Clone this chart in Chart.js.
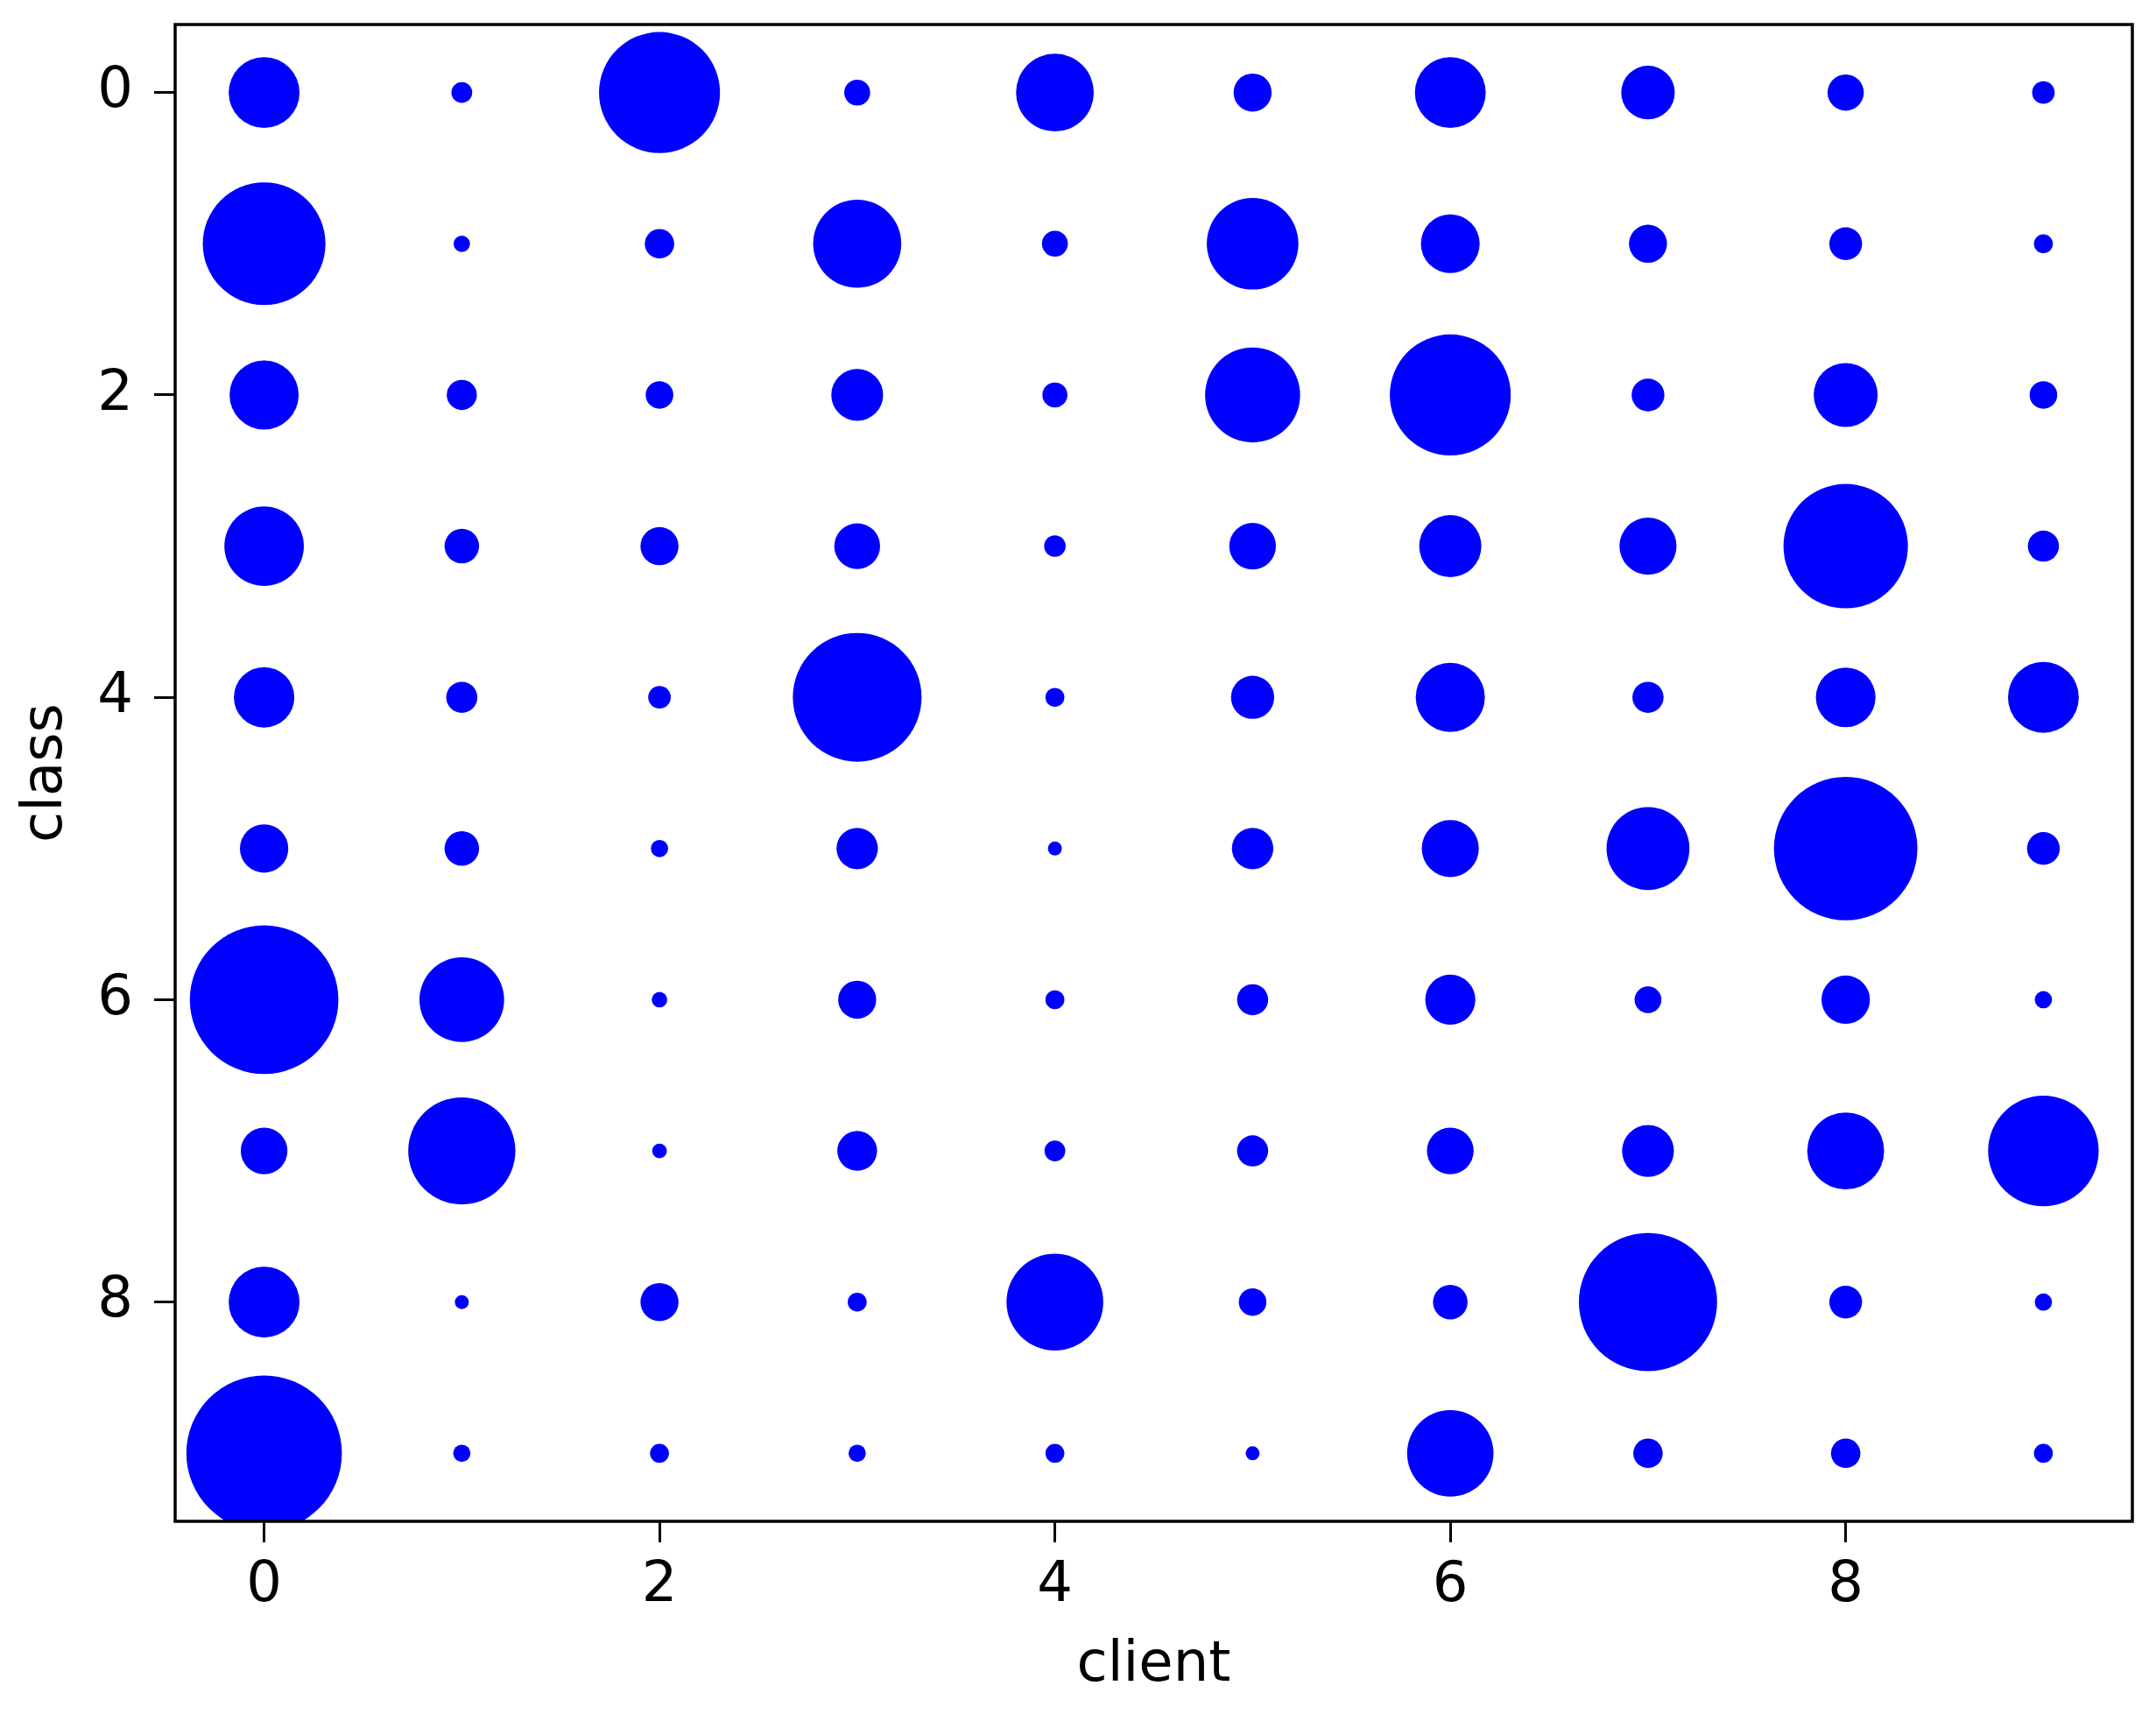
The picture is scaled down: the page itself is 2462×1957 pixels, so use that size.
<!DOCTYPE html>
<html>
<head>
<meta charset="utf-8">
<title>client / class distribution</title>
<script src="https://cdn.jsdelivr.net/npm/chart.js@4.4.1/dist/chart.umd.min.js"></script>
<style>
  html, body { margin: 0; padding: 0; background: #ffffff; }
  #wrap { width: 2462px; height: 1957px; }
</style>
</head>
<body>
<div id="wrap"><canvas id="bubbleChart" width="2462" height="1957"></canvas></div>
<script>
// clients along x, classes along y (0 at the top)
const clients = [0, 1, 2, 3, 4, 5, 6, 7, 8, 9];
const classes = [0, 1, 2, 3, 4, 5, 6, 7, 8, 9];

// samples of each class held by every client
const class0 = [672, 58, 1960, 90, 810, 194, 672, 384, 176, 68];
const class1 = [2016, 36, 116, 1040, 90, 1124, 462, 194, 144, 48];
const class2 = [640, 122, 102, 360, 84, 1210, 1960, 144, 548, 102];
const class3 = [846, 160, 194, 281, 62, 292, 518, 436, 2074, 130];
const class4 = [490, 130, 68, 2220, 48, 250, 640, 130, 476, 672];
const class5 = [314, 160, 40, 230, 26, 230, 436, 922, 2756, 144];
const class6 = [2958, 960, 32, 194, 48, 130, 336, 96, 314, 40];
const class7 = [292, 1538, 29, 212, 58, 130, 292, 360, 792, 1638];
const class8 = [672, 26, 194, 48, 1254, 102, 160, 2560, 144, 40];
const class9 = [3240, 40, 48, 40, 48, 26, 1000, 116, 116, 48];
const countsByClass = [class0, class1, class2, class3, class4, class5, class6, class7, class8, class9];

const xTicks = [0, 2, 4, 6, 8];
const yTicks = [0, 2, 4, 6, 8];

document.addEventListener('DOMContentLoaded', () => {

    const FONT = "'DejaVu Sans', sans-serif";
    const sizeScale = 1.56; // px of radius per sqrt(sample)

    const points = [];
    classes.forEach((cls, ci) => {
        clients.forEach((cl, ki) => {
            const count = countsByClass[ci][ki];
            points.push({ x: cl, y: cls, r: Math.sqrt(count) * sizeScale, count: count });
        });
    });

    // matplotlib-like box round the axes
    const frame = {
        id: 'frame',
        afterDatasetsDraw(chart) {
            const { ctx, chartArea: a } = chart;
            ctx.save();
            ctx.strokeStyle = '#000000';
            ctx.lineWidth = 3.5;
            ctx.strokeRect(a.left, a.top, a.right - a.left, a.bottom - a.top);
            ctx.restore();
        }
    };

    const tickOptions = (values) => (scale) => {
        scale.ticks = values.map(v => ({ value: v }));
    };

    const ctx = document.getElementById('bubbleChart').getContext('2d');
    new Chart(ctx, {
        type: 'bubble',
        data: {
            datasets: [{
                label: 'samples',
                data: points,
                backgroundColor: '#0000ff',
                borderWidth: 0,
                hoverBorderWidth: 0,
                hoverRadius: 0,
                clip: 0
            }]
        },
        options: {
            responsive: false,
            animation: false,
            devicePixelRatio: 1,
            layout: { autoPadding: false, padding: { top: 28, right: 27, left: 0, bottom: 0 } },
            plugins: {
                legend: { display: false },
                tooltip: { enabled: false }
            },
            scales: {
                x: {
                    type: 'linear',
                    min: -0.45,
                    max: 9.45,
                    afterBuildTicks: tickOptions(xTicks),
                    afterFit: (scale) => {
                        scale.height = 220;
                        scale.paddingLeft = 0;
                        scale.paddingRight = 0;
                    },
                    ticks: {
                        color: '#000000',
                        padding: 12,
                        font: { family: FONT, size: 64 },
                        callback: (v) => String(v)
                    },
                    grid: { drawOnChartArea: false, drawTicks: true, tickLength: 24, tickWidth: 3, tickColor: '#000000' },
                    border: { display: false },
                    title: {
                        display: true,
                        text: 'client',
                        color: '#000000',
                        font: { family: FONT, size: 64 },
                        padding: { top: 0, bottom: 16 }
                    }
                },
                y: {
                    type: 'linear',
                    reverse: true,
                    min: -0.45,
                    max: 9.45,
                    afterBuildTicks: tickOptions(yTicks),
                    afterFit: (scale) => {
                        scale.width = 200;
                        scale.paddingTop = 0;
                        scale.paddingBottom = 0;
                    },
                    ticks: {
                        color: '#000000',
                        padding: 24,
                        font: { family: FONT, size: 64 },
                        callback: (v) => String(v)
                    },
                    grid: { drawOnChartArea: false, drawTicks: true, tickLength: 24, tickWidth: 3, tickColor: '#000000' },
                    border: { display: false },
                    title: {
                        display: true,
                        text: 'class',
                        color: '#000000',
                        font: { family: FONT, size: 64 },
                        padding: { top: 15, bottom: 0 }
                    }
                }
            }
        },
        plugins: [frame]
    });
});
</script>
</body>
</html>
